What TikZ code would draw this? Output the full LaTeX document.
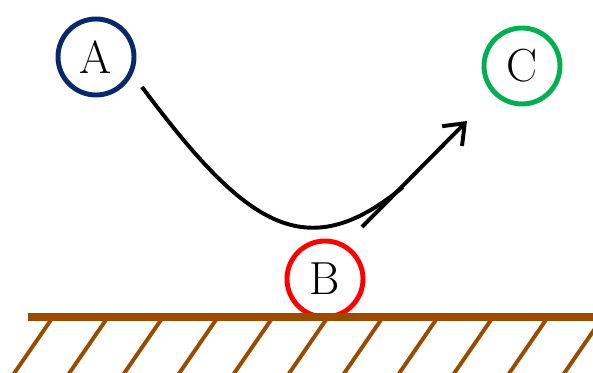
\documentclass[tikz,border=0pt]{standalone}
\usepackage{fontspec}
\usepackage{tikz}
\usetikzlibrary{arrows.meta, positioning}
\definecolor{navyA}{RGB}{8,40,110}
\definecolor{greenC}{RGB}{0,176,80}
\definecolor{redB}{RGB}{255,0,0}
\definecolor{soil}{RGB}{153,76,0}
\tikzset{
    ball/.style={circle, draw, line width=3.5pt, minimum size=1.9cm, inner sep=0pt,
                 font=\fontsize{33}{38}\selectfont},
    ground/.style={draw=soil, line width=5.2pt},
    hatch/.style={draw=soil, line width=2.8pt},
    route/.style={line width=2.8pt},
    arrow/.style={-{Straight Barb[length=4.5mm, width=7mm]}, line width=2.8pt},
}

\begin{document}
\begin{tikzpicture}
    \useasboundingbox (0,0) rectangle (14.825,9.325);

    % ── BALLS ──
    \node[ball, draw=navyA] (a) at (2.4,7.9) {A};
    \node[ball, draw=redB] (b) at (8.125,2.35) {B};
    \node[ball, draw=greenC] (c) at (13.05,7.675) {C};

    % ── GROUND ──
    \coordinate (gl) at (0.7,1.4);
    \coordinate (gr) at (15.2,1.4);
    \foreach \i in {0,...,10}
        \draw[hatch] ({1.325+\i*1.375},1.4) -- ++(-1.0,-1.45);
    \draw[ground] (gl) -- (gr);

    % ── TRAJECTORY ──
    \coordinate (start) at (3.55,7.15);
    \coordinate (join) at (10.075,4.65);
    \coordinate (tail) at (9.05,3.65);
    \coordinate (tip) at (11.675,6.3);
    \draw[route] (start) .. controls (6.125,3.7) and (7.625,2.625) .. (join);
    \draw[arrow] (tail) -- (tip);

\end{tikzpicture}
\end{document}
